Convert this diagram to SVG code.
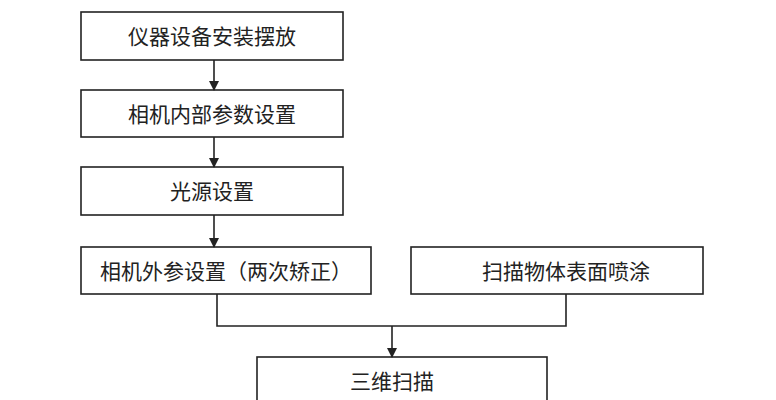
<svg xmlns="http://www.w3.org/2000/svg" width="776" height="400" viewBox="0 0 776 400">
<style>
.b{fill:#fff;stroke:#222;stroke-width:1.6}
.t{font-family:"Liberation Sans","Noto Sans CJK SC",sans-serif;font-size:21px;fill:#222;text-anchor:middle;dominant-baseline:central}
.c{fill:none;stroke:#222;stroke-width:1.6}
</style>
<defs><marker id="a" markerWidth="10" markerHeight="10" refX="9" refY="5" orient="auto" markerUnits="userSpaceOnUse"><path d="M0,0L10,5L0,10z" fill="#222"/></marker></defs>
<rect width="776" height="400" fill="#fff"/>
<g id="n1"><rect class="b" x="81" y="12" width="262" height="48"/><text class="t" x="212" y="36">仪器设备安装摆放</text></g>
<g id="n2"><rect class="b" x="81" y="90" width="262" height="47"/><text class="t" x="212" y="114">相机内部参数设置</text></g>
<g id="n3"><rect class="b" x="81" y="167" width="262" height="48"/><text class="t" x="212" y="191">光源设置</text></g>
<g id="n4"><rect class="b" x="81" y="247" width="290" height="47"/><text class="t" x="226" y="271">相机外参设置（两次矫正）</text></g>
<g id="n5"><rect class="b" x="411" y="247" width="292" height="47"/><text class="t" x="566" y="271">扫描物体表面喷涂</text></g>
<g id="n6"><rect class="b" x="257" y="357" width="290" height="60"/><text class="t" x="392" y="381">三维扫描</text></g>
<g id="connectors">
<path class="c" d="M214,60V90" marker-end="url(#a)"/>
<path class="c" d="M214,137V167" marker-end="url(#a)"/>
<path class="c" d="M214,215V247" marker-end="url(#a)"/>
<path class="c" d="M217,294V326H566V294"/>
<path class="c" d="M392,326V357" marker-end="url(#a)"/>
</g>
</svg>
